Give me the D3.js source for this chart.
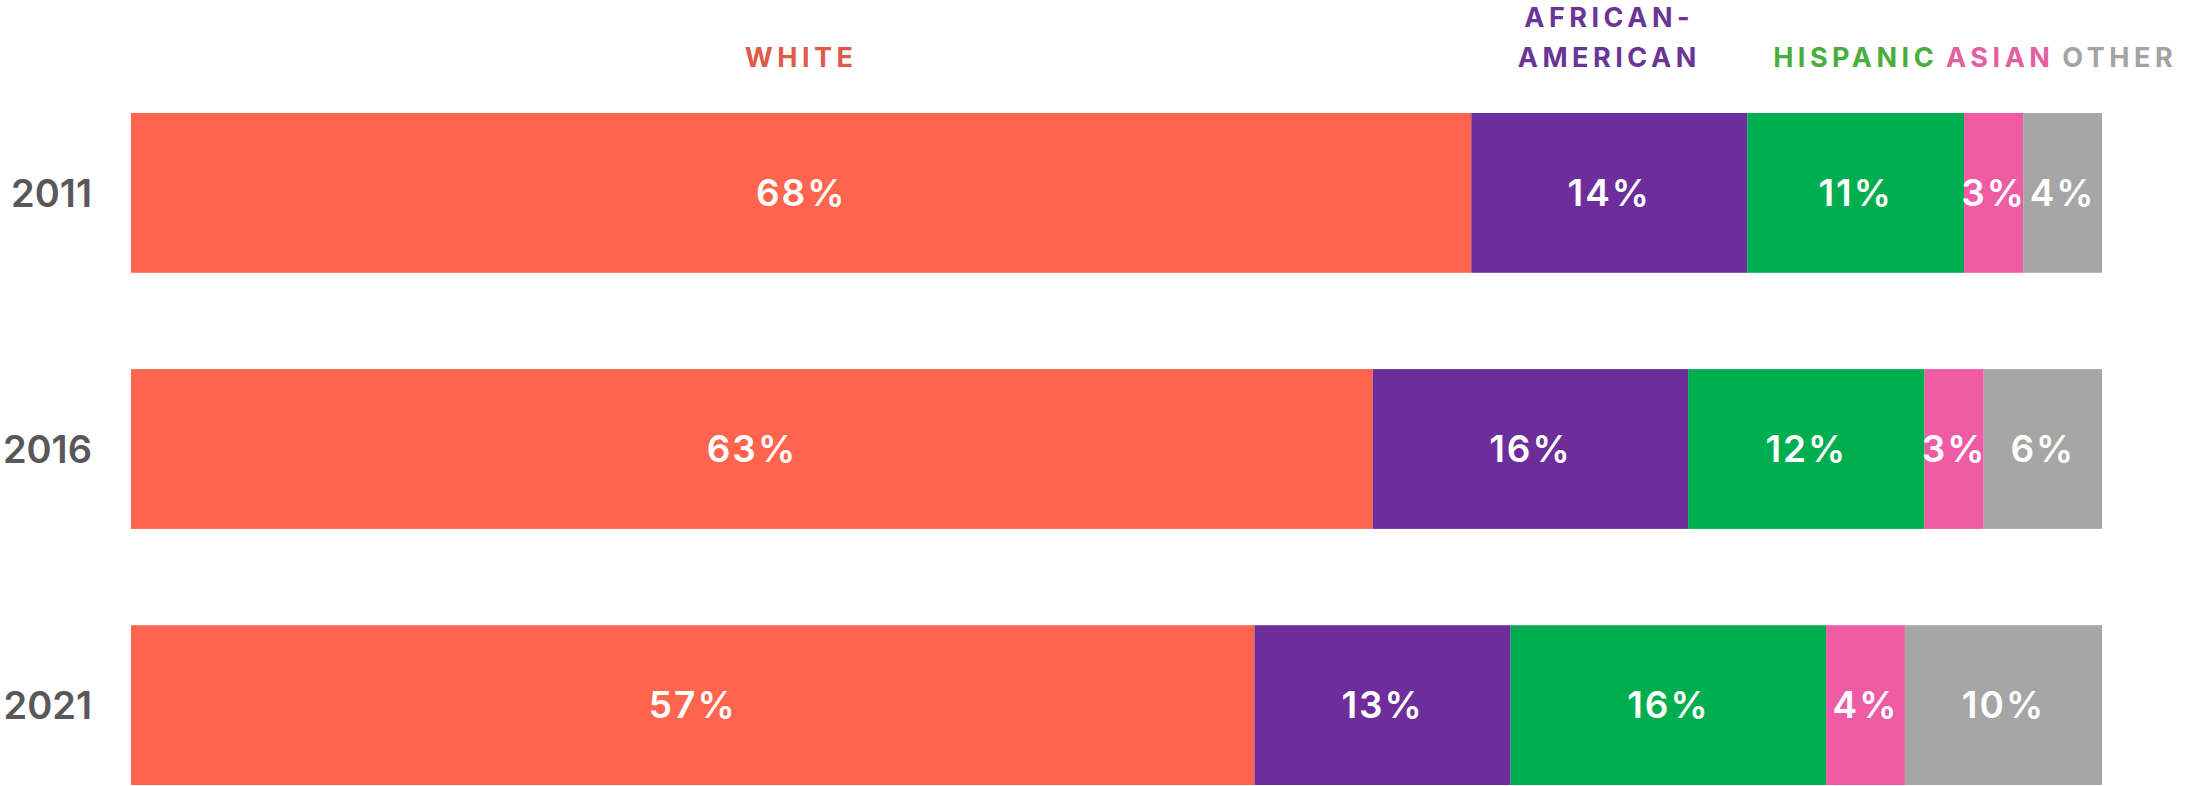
<!DOCTYPE html>
<html>
<head>
<meta charset="utf-8">
<script src="https://cdn.jsdelivr.net/npm/d3@7"></script>
<style>
  html, body { margin: 0; padding: 0; background: #fff; }
  svg { display: block; }
</style>
</head>
<body>
<svg id="chart" width="2189" height="786"></svg>
<script>
// Population share by race / ethnicity, percent of total
const years = ["2011", "2016", "2021"];
const groups = ["White", "African-American", "Hispanic", "Asian", "Other"];
const legendLines = [["WHITE"], ["AFRICAN-", "AMERICAN"], ["HISPANIC"], ["ASIAN"], ["OTHER"]];
const white    = [68, 63, 57];
const african  = [14, 16, 13];
const hispanic = [11, 12, 16];
const asian    = [3, 3, 4];
const other    = [4, 6, 10];

const barColors  = ["#ff644e", "#6d2e9c", "#00ad4f", "#ef5ba5", "#a6a6a6"];
const textColors = ["#e0594a", "#6a3596", "#4aae3c", "#e45ea2", "#a3a3a3"];

const rows = years.map((y, i) => ({
  year: y,
  values: [white[i], african[i], hispanic[i], asian[i], other[i]]
}));
rows.forEach(r => {
  let acc = 0;
  r.segs = r.values.map((v, k) => {
    const s = { key: groups[k], k, v, x0: acc, x1: acc + v };
    acc += v;
    return s;
  });
});

const svg = d3.select("#chart");
const x = d3.scaleLinear().domain([0, 100]).range([131, 2102]);
const y = d3.scaleBand().domain(years).range([113, 785]).paddingInner(0.376).paddingOuter(0);
const color = d3.scaleOrdinal().domain(groups).range(barColors);
const tcolor = d3.scaleOrdinal().domain(groups).range(textColors);

const FONT = "Inter, 'Open Sans', 'DejaVu Sans', sans-serif";

// stacked bars
const row = svg.selectAll("g.row").data(rows).join("g").attr("class", "row");
row.selectAll("rect")
  .data(d => d.segs.map(s => ({ ...s, year: d.year })))
  .join("rect")
  .attr("x", d => x(d.x0))
  .attr("width", d => x(d.x1) - x(d.x0))
  .attr("y", d => y(d.year))
  .attr("height", y.bandwidth())
  .attr("fill", d => color(d.key));

// value labels inside each segment
row.selectAll("text.val")
  .data(d => d.segs.map(s => ({ ...s, year: d.year })))
  .join("text")
  .attr("class", "val")
  .attr("x", d => (x(d.x0) + x(d.x1)) / 2)
  .attr("y", d => y(d.year) + y.bandwidth() / 2)
  .attr("dy", "0.36em")
  .attr("text-anchor", "middle")
  .attr("font-family", FONT)
  .attr("font-weight", 600)
  .attr("font-size", 37)
  .attr("letter-spacing", 2)
  .attr("fill", "#ffffff")
  .text(d => d.v + "%");

// year labels (y axis)
const yAxis = d3.axisLeft(y).tickSize(0).tickPadding(0);
const ga = svg.append("g").attr("transform", "translate(92,0)").call(yAxis);
ga.select(".domain").remove();
ga.selectAll("text")
  .attr("font-family", FONT)
  .attr("font-weight", 600)
  .attr("font-size", 38)
  .attr("fill", "#58585a")
  .attr("dy", "0.36em");

// category labels above the first bar, centred on its segments, nudged apart
const first = rows[0].segs;
const leg = svg.append("g").attr("class", "legend");
const items = first.map((s, k) => {
  const g = leg.append("g");
  const lines = legendLines[k];
  lines.forEach((t, j) => {
    g.append("text")
      .attr("x", 0)
      .attr("y", 67 - (lines.length - 1 - j) * 40)
      .attr("text-anchor", "middle")
      .attr("font-family", FONT)
      .attr("font-weight", 700)
      .attr("font-size", 27)
      .attr("letter-spacing", 4.5)
      .attr("fill", tcolor(s.key))
      .text(t);
  });
  const w = g.node().getBBox().width;
  return { g, w, cx: (x(s.x0) + x(s.x1)) / 2 };
});
const gap = 8;
let prevRight = -Infinity;
items.forEach(it => {
  let left = it.cx - it.w / 2;
  if (left < prevRight + gap) left = prevRight + gap;
  it.cx = left + it.w / 2;
  prevRight = left + it.w;
  it.g.attr("transform", `translate(${it.cx},0)`);
});
</script>
</body>
</html>
